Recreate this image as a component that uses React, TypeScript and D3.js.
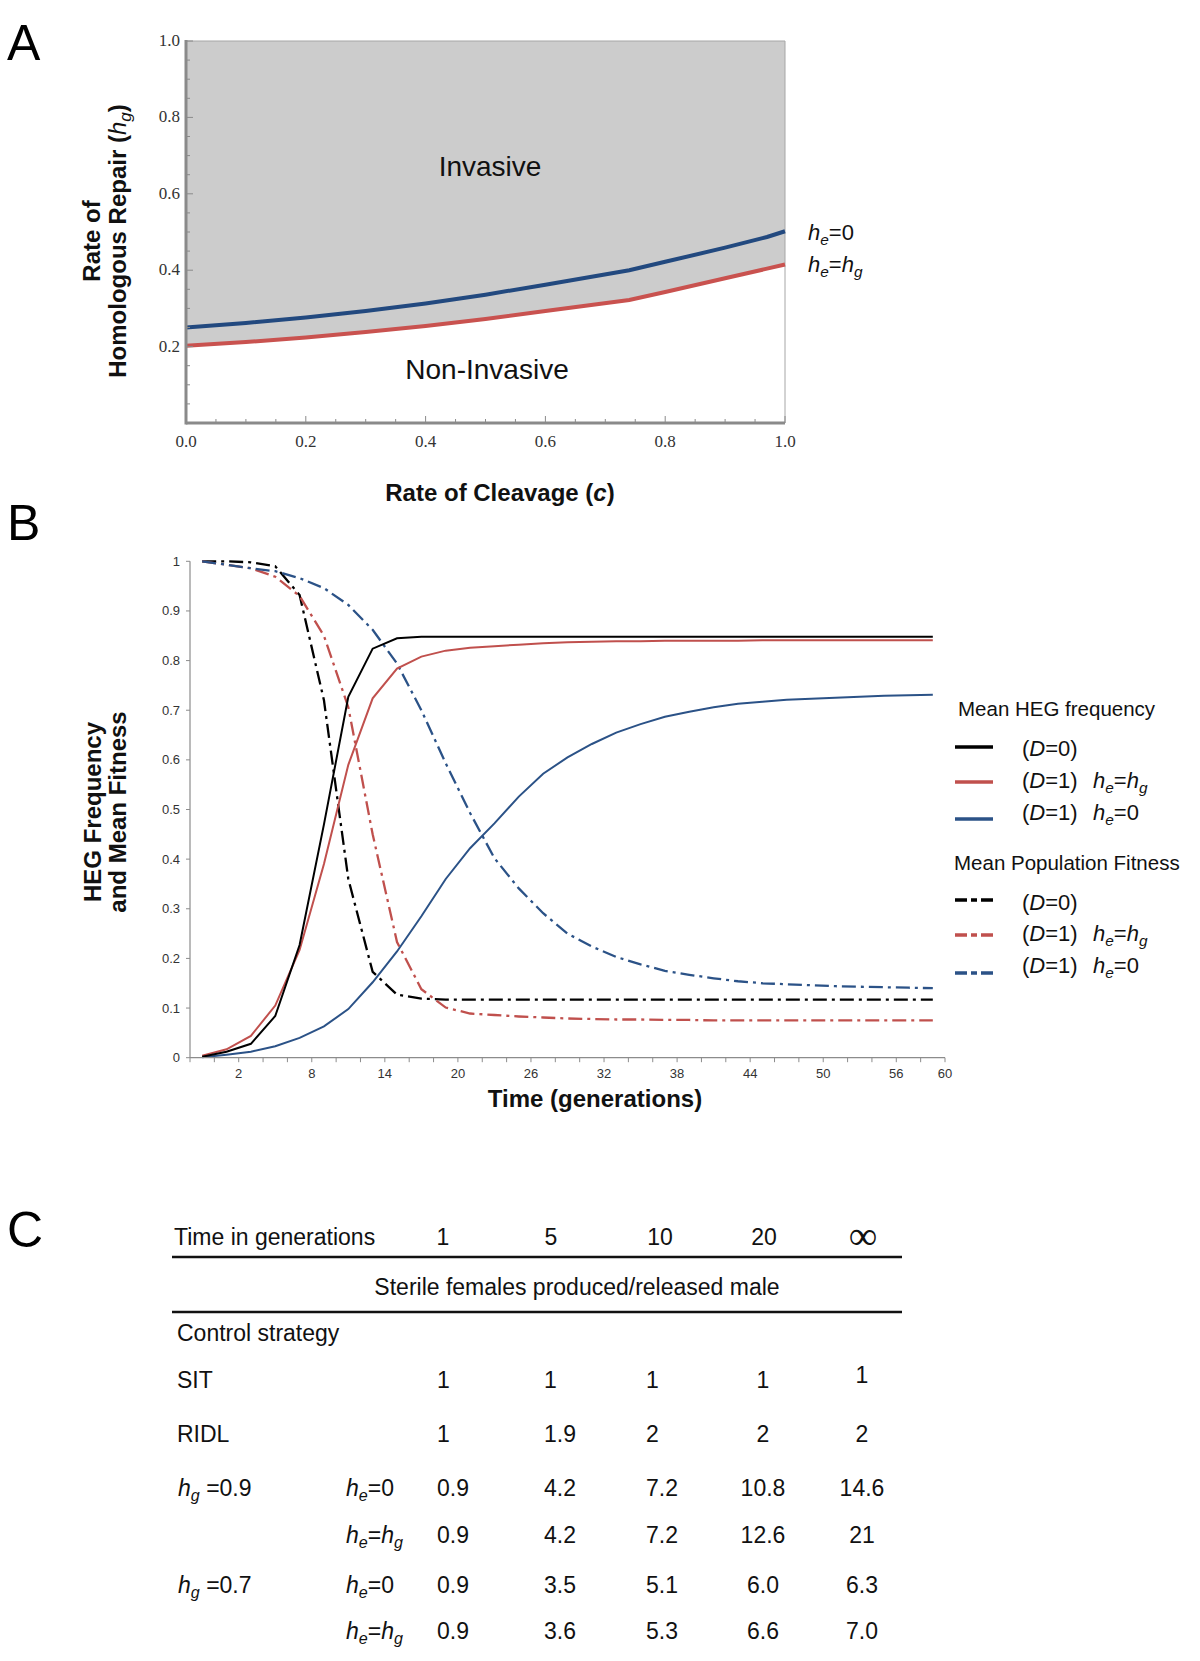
import React from "react";
import * as d3 from "d3";

// ---------- Panel A data ----------
const cleavage = [0, 0.1, 0.2, 0.3, 0.4, 0.5, 0.6, 0.74, 0.8, 0.9, 0.97, 1.0];
const repairHe0 = [0.25, 0.262, 0.276, 0.293, 0.313, 0.336, 0.362, 0.4, 0.422, 0.459, 0.487, 0.502];
const repairHeHg = [0.202, 0.212, 0.224, 0.238, 0.254, 0.272, 0.293, 0.322, 0.343, 0.379, 0.404, 0.415];
const aTicksMajor = [0, 0.2, 0.4, 0.6, 0.8, 1.0];
const aYTickLabels = [0.2, 0.4, 0.6, 0.8, 1.0];

// ---------- Panel B data ----------
const times = [-1, 1, 3, 5, 7, 9, 11, 13, 15, 17, 19, 21, 23, 25, 27, 29, 31, 33, 35, 37, 39, 41, 43, 45, 47, 49, 51, 53, 55, 57, 59];
const hegD0 = [0.002, 0.012, 0.028, 0.084, 0.227, 0.47, 0.727, 0.824, 0.845, 0.848, 0.848, 0.848, 0.848, 0.848, 0.848, 0.848, 0.848, 0.848, 0.848, 0.848, 0.848, 0.848, 0.848, 0.848, 0.848, 0.848, 0.848, 0.848, 0.848, 0.848, 0.848];
const hegHeHg = [0.004, 0.017, 0.044, 0.105, 0.217, 0.39, 0.59, 0.724, 0.784, 0.808, 0.82, 0.826, 0.829, 0.832, 0.835, 0.837, 0.838, 0.839, 0.839, 0.84, 0.84, 0.84, 0.84, 0.841, 0.841, 0.841, 0.841, 0.841, 0.841, 0.841, 0.841];
const hegHe0 = [0.001, 0.006, 0.012, 0.023, 0.04, 0.063, 0.098, 0.152, 0.214, 0.285, 0.36, 0.422, 0.472, 0.526, 0.572, 0.605, 0.632, 0.655, 0.672, 0.687, 0.697, 0.706, 0.713, 0.717, 0.721, 0.723, 0.725, 0.727, 0.729, 0.73, 0.731];
const fitD0 = [1.0, 1.0, 0.998, 0.99, 0.932, 0.72, 0.36, 0.173, 0.127, 0.119, 0.117, 0.117, 0.117, 0.117, 0.117, 0.117, 0.117, 0.117, 0.117, 0.117, 0.117, 0.117, 0.117, 0.117, 0.117, 0.117, 0.117, 0.117, 0.117, 0.117, 0.117];
const fitHeHg = [1.0, 0.993, 0.986, 0.969, 0.93, 0.85, 0.706, 0.45, 0.233, 0.138, 0.101, 0.089, 0.086, 0.083, 0.081, 0.079, 0.078, 0.077, 0.077, 0.076, 0.076, 0.075, 0.075, 0.075, 0.075, 0.075, 0.075, 0.075, 0.075, 0.075, 0.075];
const fitHe0 = [1.0, 0.993, 0.986, 0.98, 0.966, 0.946, 0.912, 0.862, 0.794, 0.7, 0.593, 0.493, 0.402, 0.341, 0.291, 0.25, 0.224, 0.203, 0.188, 0.175, 0.167, 0.16, 0.154, 0.15, 0.148, 0.146, 0.144, 0.143, 0.142, 0.141, 0.14];
const bXTickLabels = [2, 8, 14, 20, 26, 32, 38, 44, 50, 56, 60];
const bYTicks = [0, 0.1, 0.2, 0.3, 0.4, 0.5, 0.6, 0.7, 0.8, 0.9, 1];

// ---------- Panel C data ----------
const tableTimes = ["1", "5", "10", "20", "\u221E"];
const sitRow = ["1", "1", "1", "1", "1"];
const ridlRow = ["1", "1.9", "2", "2", "2"];
const hg09He0 = ["0.9", "4.2", "7.2", "10.8", "14.6"];
const hg09HeHg = ["0.9", "4.2", "7.2", "12.6", "21"];
const hg07He0 = ["0.9", "3.5", "5.1", "6.0", "6.3"];
const hg07HeHg = ["0.9", "3.6", "5.3", "6.6", "7.0"];

const SANS = "'Liberation Sans', Arial, Helvetica, sans-serif";
const SERIF = "'Liberation Serif', 'Times New Roman', serif";
const RED = "#c0504d";
const BLUE = "#2b5287";
const RED_A = "#c9524f";
const BLUE_A = "#22497f";

// italic symbol with italic subscript, optionally followed by plain text (baseline restored)
const Sub = ({ base, sub, size, after }: { base: string; sub: string; size: number; after?: string }) => (
  <>
    <tspan fontStyle="italic">{base}</tspan>
    <tspan fontStyle="italic" fontSize={size * 0.7} dy={size * 0.22}>{sub}</tspan>
    {after ? <tspan dy={-size * 0.22}>{after}</tspan> : null}
  </>
);

function PanelA() {
  const x = d3.scaleLinear().domain([0, 1]).range([186, 785]);
  const y = d3.scaleLinear().domain([0, 1]).range([423, 41]);
  const pts = cleavage.map((c, i) => ({ c, b: repairHe0[i], r: repairHeHg[i] }));
  const area = d3.area<any>().x((d) => x(d.c)).y0(y(1)).y1((d) => y(d.r))(pts) || "";
  const lineB = d3.line<any>().x((d) => x(d.c)).y((d) => y(d.b))(pts) || "";
  const lineR = d3.line<any>().x((d) => x(d.c)).y((d) => y(d.r))(pts) || "";
  const minor = d3.range(0, 1.0001, 0.05);
  return (
    <g>
      <text x={7} y={60} fontFamily={SANS} fontSize={50}>A</text>
      <path d={area} fill="#cccccc" />
      <line x1={x(0)} x2={x(1)} y1={y(1)} y2={y(1)} stroke="#a6a6a6" strokeWidth={1} />
      <line x1={x(1)} x2={x(1)} y1={y(1)} y2={y(0)} stroke="#a6a6a6" strokeWidth={1} />
      <path d={lineR} fill="none" stroke={RED_A} strokeWidth={4} />
      <path d={lineB} fill="none" stroke={BLUE_A} strokeWidth={4} />
      {minor.map((t, i) => {
        const major = Math.abs(t * 5 - Math.round(t * 5)) < 1e-6;
        const len = major ? 7 : 4;
        return (
          <g key={i} stroke="#8a8a8a" strokeWidth={1}>
            <line x1={x(t)} x2={x(t)} y1={y(0)} y2={y(0) - len} />
            {t > 0 && <line x1={x(0)} x2={x(0) + len} y1={y(t)} y2={y(t)} />}
          </g>
        );
      })}
      <line x1={x(0)} x2={x(1)} y1={y(0)} y2={y(0)} stroke="#8a8a8a" strokeWidth={3} />
      <line x1={x(0)} x2={x(0)} y1={y(1) - 1} y2={y(0) + 1.5} stroke="#8a8a8a" strokeWidth={3} />
      {aTicksMajor.map((t) => (
        <text key={"xa" + t} x={x(t)} y={447} textAnchor="middle" fontFamily={SERIF} fontSize={17} fill="#333">
          {t.toFixed(1)}
        </text>
      ))}
      {aYTickLabels.map((t) => (
        <text key={"ya" + t} x={180} y={y(t) + 5} textAnchor="end" fontFamily={SERIF} fontSize={17} fill="#333">
          {t.toFixed(1)}
        </text>
      ))}
      <text x={490} y={176} textAnchor="middle" fontFamily={SANS} fontSize={28} fill="#111">Invasive</text>
      <text x={487} y={379} textAnchor="middle" fontFamily={SANS} fontSize={28} fill="#111">Non-Invasive</text>
      <text x={808} y={240} fontFamily={SANS} fontSize={22} fill="#111">
        <Sub base="h" sub="e" size={22} after="=0" />
      </text>
      <text x={808} y={272} fontFamily={SANS} fontSize={22} fill="#111">
        <Sub base="h" sub="e" size={22} after="=" />
        <Sub base="h" sub="g" size={22} />
      </text>
      <g transform="translate(100,241) rotate(-90)">
        <text textAnchor="middle" fontFamily={SANS} fontWeight="bold" fontSize={24} fill="#111">Rate of</text>
      </g>
      <g transform="translate(126,241) rotate(-90)">
        <text textAnchor="middle" fontFamily={SANS} fontWeight="bold" fontSize={24} fill="#111">
          Homologous Repair (<tspan fontStyle="italic" fontWeight="normal">h</tspan>
          <tspan fontStyle="italic" fontWeight="normal" fontSize={17} dy={5}>g</tspan>
          <tspan dy={-5}>)</tspan>
        </text>
      </g>
      <text x={500} y={501} textAnchor="middle" fontFamily={SANS} fontWeight="bold" fontSize={24} fill="#111">
        Rate of Cleavage (<tspan fontStyle="italic">c</tspan>)
      </text>
    </g>
  );
}

function PanelB() {
  const x = d3.scaleLinear().domain([-2, 60]).range([190, 945]);
  const y = d3.scaleLinear().domain([0, 1]).range([1057.7, 561.3]);
  const mk = (vals: number[]) =>
    d3.line<number>().x((_, i) => x(times[i])).y((v) => y(v))(vals) || "";
  const DD = "14 5 3 5";
  const series = [
    { v: fitD0, c: "#000", dash: DD, w: 2.3 },
    { v: fitHeHg, c: RED, dash: DD, w: 2.3 },
    { v: fitHe0, c: BLUE, dash: DD, w: 2.3 },
    { v: hegHe0, c: BLUE, dash: undefined, w: 2 },
    { v: hegHeHg, c: RED, dash: undefined, w: 2 },
    { v: hegD0, c: "#000", dash: undefined, w: 2 },
  ];
  const xTicks = d3.range(-2, 61, 2);
  const legendRows = [
    { y: 747, c: "#000", dash: undefined, d: "0", he: null, ty: 756 },
    { y: 782, c: RED, dash: undefined, d: "1", he: "hg", ty: 788 },
    { y: 819, c: BLUE, dash: undefined, d: "1", he: "0", ty: 820 },
    { y: 900, c: "#000", dash: "12 4 6 4", d: "0", he: null, ty: 910 },
    { y: 935, c: RED, dash: "12 4 6 4", d: "1", he: "hg", ty: 941 },
    { y: 973, c: BLUE, dash: "12 4 6 4", d: "1", he: "0", ty: 973 },
  ];
  return (
    <g>
      <text x={7} y={540} fontFamily={SANS} fontSize={50}>B</text>
      {series.map((s, i) => (
        <path key={i} d={mk(s.v)} fill="none" stroke={s.c} strokeWidth={s.w} strokeDasharray={s.dash} />
      ))}
      <line x1={190} x2={190} y1={y(1)} y2={y(0)} stroke="#8c8c8c" strokeWidth={1.2} />
      <line x1={190} x2={945} y1={y(0)} y2={y(0)} stroke="#8c8c8c" strokeWidth={1.2} />
      {bYTicks.map((t) => (
        <g key={"yb" + t}>
          <line x1={186} x2={190} y1={y(t)} y2={y(t)} stroke="#8c8c8c" />
          <text x={180} y={y(t) + 4.5} textAnchor="end" fontFamily={SANS} fontSize={13} fill="#333">
            {String(t)}
          </text>
        </g>
      ))}
      {xTicks.map((t) => (
        <line key={"xt" + t} x1={x(t)} x2={x(t)} y1={y(0)} y2={y(0) + 4.5} stroke="#8c8c8c" />
      ))}
      {bXTickLabels.map((t) => (
        <text key={"xl" + t} x={x(t)} y={1078} textAnchor="middle" fontFamily={SANS} fontSize={13} fill="#333">
          {t}
        </text>
      ))}
      <text x={595} y={1107} textAnchor="middle" fontFamily={SANS} fontWeight="bold" fontSize={24} fill="#111">
        Time (generations)
      </text>
      <g transform="translate(101,812) rotate(-90)">
        <text textAnchor="middle" fontFamily={SANS} fontWeight="bold" fontSize={24} fill="#111">HEG Frequency</text>
      </g>
      <g transform="translate(126,812) rotate(-90)">
        <text textAnchor="middle" fontFamily={SANS} fontWeight="bold" fontSize={24} fill="#111">and Mean Fitness</text>
      </g>
      <text x={958} y={716} fontFamily={SANS} fontSize={20.5} fill="#111">Mean HEG frequency</text>
      <text x={954} y={870} fontFamily={SANS} fontSize={20.5} fill="#111">Mean Population Fitness</text>
      {legendRows.map((r, i) => (
        <g key={"lg" + i}>
          <line x1={955} x2={993} y1={r.y} y2={r.y} stroke={r.c} strokeWidth={3.5} strokeDasharray={r.dash} />
          <text x={1022} y={r.ty} fontFamily={SANS} fontSize={22} fill="#111">
            (<tspan fontStyle="italic">D</tspan>={r.d})
          </text>
          {r.he ? (
            <text x={1093} y={r.ty} fontFamily={SANS} fontSize={22} fill="#111">
              {r.he === "hg" ? (
                <>
                  <Sub base="h" sub="e" size={22} after="=" />
                  <Sub base="h" sub="g" size={22} />
                </>
              ) : (
                <Sub base="h" sub="e" size={22} after="=0" />
              )}
            </text>
          ) : null}
        </g>
      ))}
    </g>
  );
}

function PanelC() {
  const FS = 23;
  const colStart = [437, 544, 646];
  const colMid = [763, 862];
  const headerX = [443, 551, 660, 764, 863];
  const cells = (vals: string[], yy: number, key: string, lastDy = 0) =>
    vals.map((v, i) =>
      i < 3 ? (
        <text key={key + i} x={colStart[i]} y={yy} fontFamily={SANS} fontSize={FS} fill="#111">{v}</text>
      ) : (
        <text key={key + i} x={colMid[i - 3]} y={yy + (i === 4 ? lastDy : 0)} textAnchor="middle" fontFamily={SANS} fontSize={FS} fill="#111">{v}</text>
      )
    );
  return (
    <g>
      <text x={7} y={1247} fontFamily={SANS} fontSize={50}>C</text>
      <text x={174} y={1245} fontFamily={SANS} fontSize={FS} fill="#111">Time in generations</text>
      {tableTimes.map((t, i) => (
        <text
          key={"h" + i}
          x={headerX[i]}
          y={i === 4 ? 1249 : 1245}
          textAnchor="middle"
          fontFamily={i === 4 ? SERIF : SANS}
          fontSize={i === 4 ? 40 : FS}
          fill="#111"
        >
          {t}
        </text>
      ))}
      <line x1={172} x2={902} y1={1257} y2={1257} stroke="#111" strokeWidth={2.5} />
      <text x={577} y={1295} textAnchor="middle" fontFamily={SANS} fontSize={FS} fill="#111">
        Sterile females produced/released male
      </text>
      <line x1={172} x2={902} y1={1312} y2={1312} stroke="#111" strokeWidth={2.5} />
      <text x={177} y={1341} fontFamily={SANS} fontSize={FS} fill="#111">Control strategy</text>
      <text x={177} y={1388} fontFamily={SANS} fontSize={FS} fill="#111">SIT</text>
      {cells(sitRow, 1388, "sit", -5)}
      <text x={177} y={1442} fontFamily={SANS} fontSize={FS} fill="#111">RIDL</text>
      {cells(ridlRow, 1442, "ridl")}
      <text x={178} y={1496} fontFamily={SANS} fontSize={FS} fill="#111">
        <Sub base="h" sub="g" size={FS} after=" =0.9" />
      </text>
      <text x={346} y={1496} fontFamily={SANS} fontSize={FS} fill="#111">
        <Sub base="h" sub="e" size={FS} after="=0" />
      </text>
      {cells(hg09He0, 1496, "a")}
      <text x={346} y={1543} fontFamily={SANS} fontSize={FS} fill="#111">
        <Sub base="h" sub="e" size={FS} after="=" />
        <Sub base="h" sub="g" size={FS} />
      </text>
      {cells(hg09HeHg, 1543, "b")}
      <text x={178} y={1593} fontFamily={SANS} fontSize={FS} fill="#111">
        <Sub base="h" sub="g" size={FS} after=" =0.7" />
      </text>
      <text x={346} y={1593} fontFamily={SANS} fontSize={FS} fill="#111">
        <Sub base="h" sub="e" size={FS} after="=0" />
      </text>
      {cells(hg07He0, 1593, "c")}
      <text x={346} y={1639} fontFamily={SANS} fontSize={FS} fill="#111">
        <Sub base="h" sub="e" size={FS} after="=" />
        <Sub base="h" sub="g" size={FS} />
      </text>
      {cells(hg07HeHg, 1639, "d")}
    </g>
  );
}

export default function App() {
  return (
    <svg
      width={1200}
      height={1661}
      viewBox="0 0 1200 1661"
      style={{ position: "absolute", left: 0, top: 0, background: "#fff" }}
    >
      <rect x={0} y={0} width={1200} height={1661} fill="#fff" />
      <PanelA />
      <PanelB />
      <PanelC />
    </svg>
  );
}
